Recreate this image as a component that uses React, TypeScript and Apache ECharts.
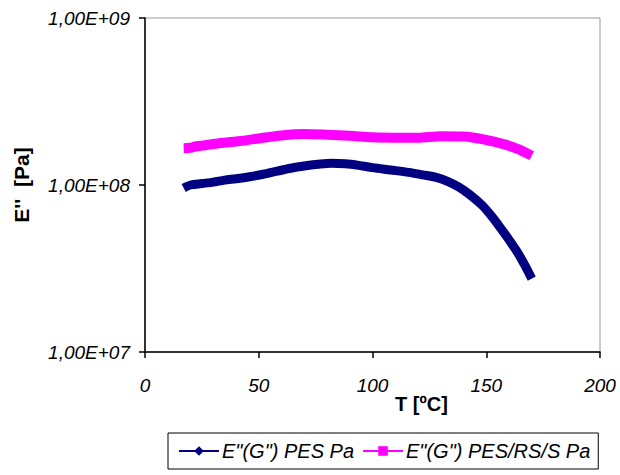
import React, { useEffect, useRef } from "react";
import * as echarts from "echarts";

// Temperature sweep [°C] and loss modulus [Pa] for the two materials
const tPes = [17, 20, 25, 30, 35, 40, 46, 52, 58, 64, 70, 76, 82, 88, 94, 100, 108, 116, 122, 128, 133, 138, 143, 148, 152, 156, 160, 164, 167, 170];
const ePes = [9.6e7, 1.0e8, 1.02e8, 1.04e8, 1.07e8, 1.09e8, 1.12e8, 1.16e8, 1.21e8, 1.26e8, 1.3e8, 1.33e8, 1.35e8, 1.34e8, 1.31e8, 1.27e8, 1.23e8, 1.19e8, 1.15e8, 1.11e8, 1.05e8, 9.7e7, 8.7e7, 7.6e7, 6.6e7, 5.6e7, 4.7e7, 3.9e7, 3.3e7, 2.75e7];

const tBlend = [17, 20, 22, 25, 30, 40, 50, 60, 70, 80, 90, 100, 110, 120, 130, 140, 150, 158, 164, 170];
const eBlend = [1.66e8, 1.67e8, 1.7e8, 1.72e8, 1.76e8, 1.82e8, 1.9e8, 1.98e8, 2.02e8, 2.0e8, 1.97e8, 1.93e8, 1.92e8, 1.92e8, 1.96e8, 1.95e8, 1.86e8, 1.75e8, 1.64e8, 1.5e8];

const seriesNames = ['E"(G") PES Pa', 'E"(G") PES/RS/S Pa'];
const xTicks = [0, 50, 100, 150, 200];

const FONT = "'Liberation Sans', Arial, sans-serif";

function sciLabel(v: number): string {
  const exp = Math.round(Math.log10(v));
  return "1,00E+" + String(exp).padStart(2, "0");
}

export default function App() {
  const ref = useRef<HTMLDivElement>(null);

  useEffect(() => {
    if (!ref.current) return;
    const chart = echarts.init(ref.current, null, { renderer: "svg" });
    chart.setOption({
      animation: false,
      backgroundColor: "#ffffff",
      textStyle: { fontFamily: FONT },
      grid: { left: 145, right: 20, top: 18, bottom: 123, show: true, borderColor: "#999999", borderWidth: 1 },
      xAxis: {
        type: "value",
        min: xTicks[0],
        max: xTicks[xTicks.length - 1],
        interval: 50,
        splitLine: { show: false },
        axisLine: { lineStyle: { color: "#000", width: 1.5 } },
        axisTick: { show: true, length: 6, lineStyle: { color: "#000", width: 1.5 } },
        axisLabel: { color: "#000", fontSize: 19, fontStyle: "italic", fontFamily: FONT, margin: 24 },
      },
      yAxis: {
        type: "log",
        logBase: 10,
        min: 1e7,
        max: 1e9,
        splitLine: { show: false },
        minorTick: { show: false },
        axisLine: { show: true, lineStyle: { color: "#000", width: 1.5 } },
        axisTick: { show: true, length: 6, lineStyle: { color: "#000", width: 1.5 } },
        axisLabel: { color: "#000", fontSize: 19, fontStyle: "italic", fontFamily: FONT, margin: 15, formatter: (v: number) => sciLabel(v) },
        name: "E''  [Pa]",
        nameLocation: "middle",
        nameGap: 113,
        nameRotate: 90,
        nameTextStyle: { color: "#000", fontSize: 21, fontWeight: "bold", fontFamily: FONT },
      },
      graphic: [
        {
          type: "text",
          left: 395,
          top: 394,
          style: { text: "T [ºC]", fill: "#000", font: `bold 20px ${FONT}` },
        },
      ],
      legend: {
        left: 168,
        top: 433,
        orient: "horizontal",
        borderColor: "#000",
        borderWidth: 1,
        padding: [8, 8, 8, 10],
        itemWidth: 40,
        itemHeight: 12,
        itemGap: 8,
        lineStyle: { width: 2 },
        textStyle: { color: "#000", fontSize: 20, fontStyle: "italic", fontFamily: FONT, padding: [0, 0, 0, -2] },
        data: seriesNames,
      },
      series: [
        {
          name: seriesNames[0],
          type: "line",
          data: tPes.map((t, i) => [t, ePes[i]]),
          symbol: "diamond",
          symbolSize: 9,
          showSymbol: false,
          smooth: 0.3,
          color: "#000080",
          lineStyle: { color: "#000080", width: 9 },
        },
        {
          name: seriesNames[1],
          type: "line",
          data: tBlend.map((t, i) => [t, eBlend[i]]),
          symbol: "rect",
          symbolSize: 8,
          showSymbol: false,
          smooth: 0.3,
          color: "#ff00ff",
          lineStyle: { color: "#ff00ff", width: 10 },
        },
      ],
    });
    return () => chart.dispose();
  }, []);

  return <div ref={ref} style={{ width: 620, height: 475, position: "absolute", left: 0, top: 0 }} />;
}
